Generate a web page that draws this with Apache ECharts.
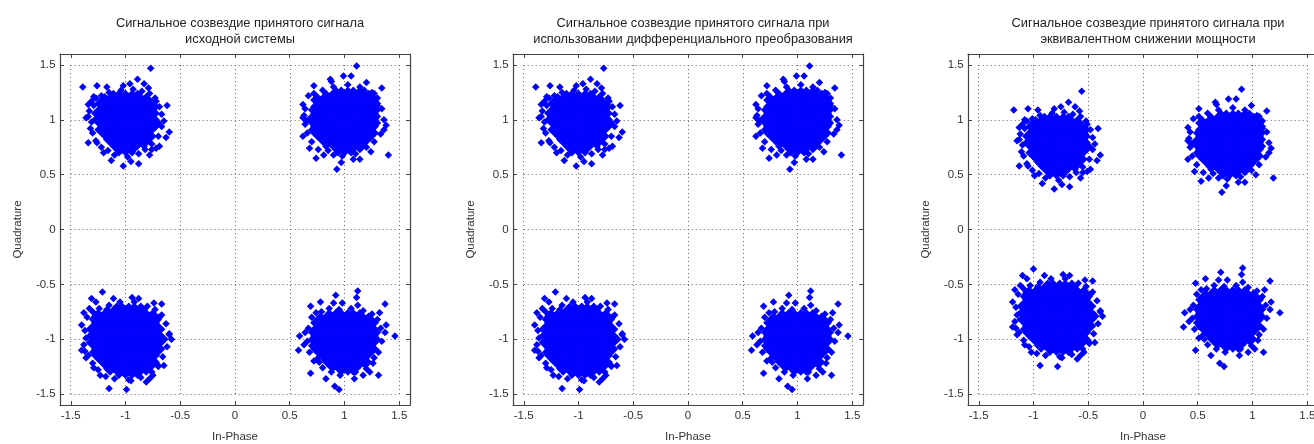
<!DOCTYPE html>
<html><head><meta charset="utf-8">
<script src="https://cdn.jsdelivr.net/npm/echarts@6/dist/echarts.min.js"></script>
<style>html,body{margin:0;padding:0;background:#fff}#c{width:1314px;height:444px}</style>
</head><body><div id="c"></div>
<script>
// ---- texts ----
const titles = [
  'Сигнальное созвездие принятого сигнала\nисходной системы',
  'Сигнальное созвездие принятого сигнала при\nиспользовании дифференциального преобразования',
  'Сигнальное созвездие принятого сигнала при\nэквивалентном снижении мощности'
];
const xName = 'In-Phase';
const yName = 'Quadrature';
const tickValues = [-1.5, -1, -0.5, 0, 0.5, 1, 1.5];

// ---- QPSK symbols and the signal amplitude of each panel ----
const symbolsI = [-1, 1, -1, 1];
const symbolsQ = [1, 1, -1, -1];
const amplitudes = [1, 1, 0.79];

// ---- received-noise offsets (same noise in all panels) ----
// dense core of each cloud: rows [dQ, [dI...]]
const coreTL = [
[.24,[-.11,-.06,0,.06,.11]],
[.21,[-.19,-.14,-.08,-.03,.03,.08,.14,.19]],
[.18,[-.22,-.17,-.11,-.06,0,.06,.11,.17,.22]],
[.15,[-.25,-.19,-.14,-.08,-.03,.03,.08,.14,.19,.25]],
[.12,[-.22,-.17,-.11,-.06,0,.06,.11,.17,.22,.28]],
[.09,[-.25,-.19,-.14,-.08,-.03,.03,.08,.14,.19,.25]],
[.06,[-.28,-.22,-.17,-.11,-.06,0,.06,.11,.17,.22,.28]],
[.03,[-.25,-.19,-.14,-.08,-.03,.03,.08,.14,.19,.25]],
[0,[-.28,-.22,-.17,-.11,-.06,0,.06,.11,.17,.22,.28]],
[-.03,[-.25,-.19,-.14,-.08,-.03,.03,.08,.14,.19,.25,.3]],
[-.06,[-.22,-.17,-.11,-.06,0,.06,.11,.17,.22,.28]],
[-.09,[-.25,-.19,-.14,-.08,-.03,.03,.08,.14,.19,.25]],
[-.12,[-.22,-.17,-.11,-.06,0,.06,.11,.17,.22]],
[-.15,[-.19,-.14,-.08,-.03,.03,.08,.14,.19,.25]],
[-.18,[-.17,-.11,-.06,0,.06,.11,.17,.22]],
[-.21,[-.14,-.08,-.03,.03,.08,.14,.19]],
[-.24,[-.11,-.06,0,.06,.11,.17]],
[-.27,[-.08,-.03,.03,.08]],
[-.3,[-.06,0,.06]]
];
const coreTR = [
[.27,[-.08,-.03,.03,.08,.14]],
[.24,[-.17,-.11,-.06,0,.06,.11,.17,.22]],
[.21,[-.25,-.19,-.14,-.08,-.03,.03,.08,.14,.19,.25]],
[.18,[-.28,-.22,-.17,-.11,-.06,0,.06,.11,.17,.22,.28]],
[.15,[-.25,-.19,-.14,-.08,-.03,.03,.08,.14,.19,.25,.3]],
[.12,[-.28,-.22,-.17,-.11,-.06,0,.06,.11,.17,.22,.28]],
[.09,[-.3,-.25,-.19,-.14,-.08,-.03,.03,.08,.14,.19,.25,.3]],
[.06,[-.28,-.22,-.17,-.11,-.06,0,.06,.11,.17,.22,.28]],
[.03,[-.3,-.25,-.19,-.14,-.08,-.03,.03,.08,.14,.19,.25,.3]],
[0,[-.33,-.28,-.22,-.17,-.11,-.06,0,.06,.11,.17,.22,.28]],
[-.03,[-.3,-.25,-.19,-.14,-.08,-.03,.03,.08,.14,.19,.25,.3]],
[-.06,[-.28,-.22,-.17,-.11,-.06,0,.06,.11,.17,.22,.28]],
[-.09,[-.3,-.25,-.19,-.14,-.08,-.03,.03,.08,.14,.19,.25]],
[-.12,[-.28,-.22,-.17,-.11,-.06,0,.06,.11,.17,.22,.28]],
[-.15,[-.25,-.19,-.14,-.08,-.03,.03,.08,.14,.19,.25]],
[-.18,[-.22,-.17,-.11,-.06,0,.06,.11,.17,.22]],
[-.21,[-.19,-.14,-.08,-.03,.03,.08,.14,.19]],
[-.24,[-.17,-.11,-.06,0,.06,.11,.17]],
[-.27,[-.08,-.03,.03,.08,.14]],
[-.3,[-.06,0,.06]]
];
const coreBL = [
[.3,[-.08,-.03,.03,.08,.14]],
[.27,[-.17,-.11,-.06,0,.06,.11,.17]],
[.24,[-.25,-.19,-.14,-.08,-.03,.03,.08,.14,.19,.25]],
[.21,[-.28,-.22,-.17,-.11,-.06,0,.06,.11,.17,.22,.28]],
[.18,[-.3,-.25,-.19,-.14,-.08,-.03,.03,.08,.14,.19,.25,.3]],
[.15,[-.28,-.22,-.17,-.11,-.06,0,.06,.11,.17,.22,.28]],
[.12,[-.3,-.25,-.19,-.14,-.08,-.03,.03,.08,.14,.19,.25,.3]],
[.09,[-.33,-.28,-.22,-.17,-.11,-.06,0,.06,.11,.17,.22,.28,.33]],
[.06,[-.3,-.25,-.19,-.14,-.08,-.03,.03,.08,.14,.19,.25,.3]],
[.03,[-.33,-.28,-.22,-.17,-.11,-.06,0,.06,.11,.17,.22,.28,.33]],
[0,[-.3,-.25,-.19,-.14,-.08,-.03,.03,.08,.14,.19,.25,.3,.36]],
[-.03,[-.33,-.28,-.22,-.17,-.11,-.06,0,.06,.11,.17,.22,.28,.33]],
[-.06,[-.3,-.25,-.19,-.14,-.08,-.03,.03,.08,.14,.19,.25,.3]],
[-.09,[-.28,-.22,-.17,-.11,-.06,0,.06,.11,.17,.22,.28,.33]],
[-.12,[-.3,-.25,-.19,-.14,-.08,-.03,.03,.08,.14,.19,.25,.3]],
[-.15,[-.28,-.22,-.17,-.11,-.06,0,.06,.11,.17,.22,.28]],
[-.18,[-.25,-.19,-.14,-.08,-.03,.03,.08,.14,.19,.25]],
[-.21,[-.22,-.17,-.11,-.06,0,.06,.11,.17,.22,.28]],
[-.24,[-.19,-.14,-.08,-.03,.03,.08,.14,.19,.25]],
[-.27,[-.17,-.11,-.06,0,.06,.11,.17,.22]],
[-.3,[-.14,-.08,-.03,.03,.08,.14,.19]],
[-.33,[-.06,0,.06,.11]]
];
const coreBR = [
[.24,[-.14,-.08,-.03,.03,.08,.14]],
[.21,[-.22,-.17,-.11,-.06,0,.06,.11,.17,.22]],
[.18,[-.25,-.19,-.14,-.08,-.03,.03,.08,.14,.19,.25]],
[.15,[-.28,-.22,-.17,-.11,-.06,0,.06,.11,.17,.22,.28]],
[.12,[-.25,-.19,-.14,-.08,-.03,.03,.08,.14,.19,.25]],
[.09,[-.28,-.22,-.17,-.11,-.06,0,.06,.11,.17,.22,.28]],
[.06,[-.3,-.25,-.19,-.14,-.08,-.03,.03,.08,.14,.19,.25,.3]],
[.03,[-.28,-.22,-.17,-.11,-.06,0,.06,.11,.17,.22,.28]],
[0,[-.3,-.25,-.19,-.14,-.08,-.03,.03,.08,.14,.19,.25,.3]],
[-.03,[-.28,-.22,-.17,-.11,-.06,0,.06,.11,.17,.22,.28]],
[-.06,[-.3,-.25,-.19,-.14,-.08,-.03,.03,.08,.14,.19,.25]],
[-.09,[-.28,-.22,-.17,-.11,-.06,0,.06,.11,.17,.22,.28]],
[-.12,[-.25,-.19,-.14,-.08,-.03,.03,.08,.14,.19,.25]],
[-.15,[-.22,-.17,-.11,-.06,0,.06,.11,.17,.22]],
[-.18,[-.25,-.19,-.14,-.08,-.03,.03,.08,.14,.19]],
[-.21,[-.17,-.11,-.06,0,.06,.11,.17,.22]],
[-.24,[-.14,-.08,-.03,.03,.08,.14,.19]],
[-.27,[-.11,-.06,0,.06,.11]],
[-.3,[-.03,.03,.08]]
];
// ragged edge of each cloud: [dI, dQ]
const shellTL = [[-.31,.17],[-.33,.08],[-.31,-.02],[-.3,-.12],[-.27,-.19],[-.22,-.25],[-.16,-.28],[-.1,-.32],[.02,-.34],[.12,-.31],[.18,-.27],[.24,-.22],[.3,-.15],[.33,-.06],[.33,.05],[.31,.12],[.27,.2],[.22,.24],[.15,.26],[.07,.28],[-.04,.27],[-.15,.25],[-.22,.22],[-.27,.2],[-.29,.13],[.35,-.01],[-.34,.03],[.05,-.38],[-.2,-.3],[.28,-.26]];
const shellTR = [[-.33,.22],[-.36,.1],[-.35,-.01],[-.34,-.12],[-.3,-.2],[-.24,-.27],[-.15,-.28],[-.02,-.33],[.1,-.31],[.2,-.25],[.27,-.2],[.33,-.13],[.36,0],[.34,.1],[.3,.2],[.25,.25],[.14,.3],[.03,.32],[-.1,.3],[-.2,.27],[-.28,.24],[-.12,.35],[.2,.34],[-.32,-.26],[.38,-.05],[-.38,.02],[.08,-.36]];
const shellBL = [[-.35,.2],[-.37,.08],[-.38,-.05],[-.34,-.15],[-.3,-.22],[-.25,-.28],[-.18,-.34],[-.1,-.36],[.03,-.37],[.14,-.35],[.24,-.3],[.3,-.25],[.34,-.16],[.38,-.07],[.4,.05],[.37,.14],[.33,.22],[.27,.27],[.2,.3],[.08,.34],[-.05,.34],[-.15,.31],[-.24,.28],[-.3,.25],[-.33,.28],[.35,-.24],[-.4,-.1],[.22,-.36],[-.27,.34],[.06,.38]];
const shellBR = [[-.3,.2],[-.33,.1],[-.34,-.02],[-.32,-.12],[-.28,-.2],[-.2,-.26],[-.12,-.3],[-.04,-.33],[.1,-.3],[.2,-.27],[.26,-.22],[.31,-.12],[.34,-.02],[.33,.1],[.3,.18],[.25,.23],[.17,.26],[.06,.28],[-.05,.27],[-.14,.28],[-.21,.25],[-.26,.24],[.23,-.3],[-.36,.06],[.37,.06],[.12,.31],[-.1,.33]];
// isolated outlying points: [dI, dQ]
const outTL = [[.23,.47],[-.39,.3],[-.26,.31],[.11,.37],[.17,.33],[.21,.29],[.38,.13],[.28,.17],[-.36,.02],[-.32,-.08],[.37,-.16],[.4,-.11],[-.34,-.21],[-.13,-.37],[-.02,-.42],[.12,-.4],[.22,-.32],[.24,-.27],[.31,-.24],[-.26,-.21],[-.34,.14],[-.29,.21],[-.17,.3],[-.02,.31],[.04,.33]];
const outTR = [[.11,.49],[-.01,.4],[.06,.4],[-.13,.37],[-.28,.31],[.34,.29],[-.38,.14],[.3,.13],[-.37,.04],[-.36,-.04],[-.38,-.15],[.36,-.09],[.4,-.32],[-.26,-.35],[-.19,-.32],[-.1,-.32],[-.03,-.39],[-.07,-.45],[.14,-.36],[.24,-.29],[.27,.24],[.18,.27]];
const outBL = [[-.21,.43],[-.31,.37],[-.38,.24],[-.4,.13],[-.36,.01],[-.37,-.11],[-.36,-.17],[-.11,.37],[.12,.37],[.26,.33],[.33,.32],[.31,.2],[.4,.04],[.42,0],[.29,-.23],[.19,-.39],[.05,-.38],[.01,-.46],[-.15,-.45],[-.23,-.33],[-.29,-.26],[.25,-.33]];
const outBR = [[.12,.44],[.11,.38],[-.08,.4],[-.02,.33],[-.22,.34],[-.31,.3],[.37,.32],[.32,.24],[.38,.13],[.46,.03],[-.41,.03],[-.37,-.05],[-.42,-.1],[-.31,-.31],[-.17,-.36],[-.09,-.43],[-.05,-.46],[.09,-.36],[.17,-.33],[.31,-.33],[.27,-.17],[-.23,-.21]];

const cores = [coreTL, coreTR, coreBL, coreBR];
const shells = [shellTL, shellTR, shellBL, shellBR];
const outs = [outTL, outTR, outBL, outBR];

// ---- build received points ----
function panelPoints(amp) {
  const pts = [];
  for (let k = 0; k < 4; k++) {
    const ci = symbolsI[k] * amp, cq = symbolsQ[k] * amp;
    cores[k].forEach(([dq, dis]) => dis.forEach(di => pts.push([ci + di, cq + dq])));
    shells[k].forEach(([di, dq]) => pts.push([ci + di, cq + dq]));
    outs[k].forEach(([di, dq]) => pts.push([ci + di, cq + dq]));
  }
  return pts;
}

// ---- layout ----
const FONT = '"Liberation Sans", Arial, Helvetica, sans-serif';
const panelLeft = [60, 513, 968];
const frameTop = 54, frameW = 350, frameH = 351, inset = 10.7;

const grid = [], xAxis = [], yAxis = [], series = [], title = [];
panelLeft.forEach((L, i) => {
  const gData = grid.length;
  grid.push({left: L + inset, top: frameTop + 11, width: frameW - 2 * inset, height: frameH - 22, outerBoundsMode: 'none', containLabel: false});
  const gFrame = grid.length;
  grid.push({left: L, top: frameTop, width: frameW, height: frameH, outerBoundsMode: 'none', containLabel: false});

  const xi = xAxis.length;
  xAxis.push({
    gridIndex: gData, type: 'value', min: -1.5, max: 1.5, interval: 0.5,
    axisLine: {show: false}, axisTick: {show: false},
    axisLabel: {margin: 16, color: '#333', fontSize: 11.5, fontFamily: FONT},
    splitLine: {show: true, showMinLine: true, showMaxLine: true, lineStyle: {type: [1, 3], color: '#666', width: 1}},
    name: xName, nameLocation: 'middle', nameGap: 37,
    nameTextStyle: {color: '#333', fontSize: 11.5, fontFamily: FONT}
  });
  const yi = yAxis.length;
  yAxis.push({
    gridIndex: gData, type: 'value', min: -1.5, max: 1.5, interval: 0.5,
    axisLine: {show: false}, axisTick: {show: false},
    axisLabel: {margin: 15, color: '#333', fontSize: 11.5, fontFamily: FONT},
    splitLine: {show: true, showMinLine: true, showMaxLine: true, lineStyle: {type: [1, 3], color: '#666', width: 1}},
    name: yName, nameLocation: 'middle', nameGap: 47, nameRotate: 90,
    nameTextStyle: {color: '#333', fontSize: 11.5, fontFamily: FONT}
  });
  const frameAxis = (pos) => ({
    gridIndex: gFrame, type: 'value', min: -1.6, max: 1.6, position: pos,
    axisLine: {show: true, onZero: false, lineStyle: {color: '#444', width: 1.2}},
    axisTick: {show: true, inside: true, length: 4, customValues: tickValues, lineStyle: {color: '#444'}},
    axisLabel: {show: false}, splitLine: {show: false}, silent: true
  });
  xAxis.push(frameAxis('bottom'));
  xAxis.push(frameAxis('top'));
  yAxis.push(frameAxis('left'));
  yAxis.push(frameAxis('right'));

  series.push({
    type: 'scatter', xAxisIndex: xi, yAxisIndex: yi,
    data: panelPoints(amplitudes[i]),
    symbol: 'diamond', symbolSize: 7.5, clip: false, silent: true,
    itemStyle: {color: '#0000ff', opacity: 1}
  });

  title.push({
    text: titles[i], left: L + frameW / 2, top: 10, textAlign: 'center',
    textStyle: {fontSize: 12.8, fontWeight: 'normal', color: '#222', lineHeight: 16.5, fontFamily: FONT}
  });
});

const chart = echarts.init(document.getElementById('c'), null, {renderer: 'canvas'});
chart.setOption({animation: false, backgroundColor: '#fff', title, grid, xAxis, yAxis, series});
</script>
</body></html>
